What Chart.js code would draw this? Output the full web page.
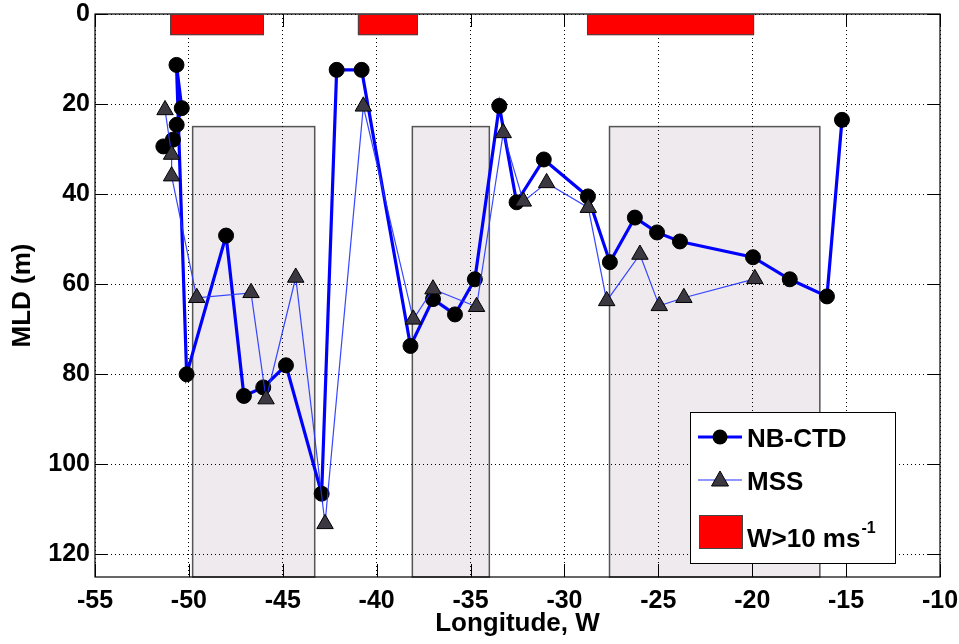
<!DOCTYPE html>
<html>
<head>
<meta charset="utf-8">
<script src="https://cdn.jsdelivr.net/npm/chart.js@4/dist/chart.umd.min.js"></script>
<style>
  html, body { margin: 0; padding: 0; background: #ffffff; }
  #wrap { width: 959px; height: 644px; position: relative; }
</style>
</head>
<body>
<div id="wrap"><canvas id="c" width="959" height="644"></canvas></div>
<script>
// ---- data ----
const ctdLon = [-51.36, -50.85, -50.65, -50.38, -50.66, -50.12, -48.02, -47.07, -46.04, -44.83, -42.93, -42.13, -40.80, -38.20, -37.00, -35.83, -34.77, -33.47, -32.55, -31.10, -28.75, -27.58, -26.25, -25.07, -23.85, -19.96, -18.00, -16.02, -15.22];
const ctdMld = [29.4, 27.9, 24.6, 20.9, 11.3, 80.0, 49.2, 84.8, 82.9, 78.0, 106.5, 12.4, 12.4, 73.7, 63.3, 66.7, 58.9, 20.4, 41.8, 32.3, 40.5, 55.1, 45.2, 48.5, 50.5, 54.0, 58.9, 62.7, 23.5];

const mssLon = [-51.27, -50.92, -50.92, -49.58, -46.69, -45.89, -44.31, -42.75, -40.71, -38.05, -37.00, -34.68, -33.26, -32.19, -30.95, -28.73, -27.75, -25.98, -24.95, -23.64, -19.86];
const mssMld = [21.3, 31.2, 36.0, 63.0, 61.9, 85.5, 58.5, 113.2, 20.5, 67.8, 61.1, 65.0, 26.4, 41.6, 37.5, 43.0, 63.7, 53.4, 64.8, 63.0, 58.8];

// wind > 10 m/s periods (longitude start, end) and depth extent
const windStart = [-51.0, -41.0, -28.8];
const windEnd   = [-46.0, -37.8, -19.9];
const windDepth = [0, 4.7];

// shaded boxes (longitude start, end), depth from 25 to bottom
const shadeStart = [-49.8, -38.1, -27.6];
const shadeEnd   = [-43.3, -34.0, -16.4];
const shadeDepth = [25, 125];

const xTicks = [-55, -50, -45, -40, -35, -30, -25, -20, -15, -10];
const yTicks = [0, 20, 40, 60, 80, 100, 120];

const FONT = "'Liberation Sans', Arial, Helvetica, sans-serif";

function pts(xs, ys) { return xs.map((x, i) => ({ x: x, y: ys[i] })); }

const boxesPlugin = {
  id: 'boxes',
  beforeDraw(chart) {
    const { ctx, scales: { x, y } } = chart;
    ctx.save();
    for (let i = 0; i < shadeStart.length; i++) {
      const x0 = x.getPixelForValue(shadeStart[i]);
      const x1 = x.getPixelForValue(shadeEnd[i]);
      const y0 = y.getPixelForValue(shadeDepth[0]);
      const y1 = y.getPixelForValue(shadeDepth[1]);
      ctx.fillStyle = '#eeeaee';
      ctx.fillRect(x0, y0, x1 - x0, y1 - y0);
      ctx.strokeStyle = '#555555';
      ctx.lineWidth = 1.5;
      ctx.strokeRect(x0, y0, x1 - x0, y1 - y0);
    }
    ctx.restore();
  },
  afterDatasetsDraw(chart) {
    const { ctx, chartArea: a, scales: { x, y } } = chart;
    ctx.save();
    ctx.strokeStyle = '#000000';
    ctx.lineWidth = 1.2;
    ctx.strokeRect(a.left, a.top, a.right - a.left, a.bottom - a.top);
    const tl = 13;
    ctx.beginPath();
    xTicks.forEach(v => {
      const px = Math.round(x.getPixelForValue(v)) + 0.5;
      ctx.moveTo(px, a.bottom); ctx.lineTo(px, a.bottom - tl);
      ctx.moveTo(px, a.top); ctx.lineTo(px, a.top + tl);
    });
    yTicks.forEach(v => {
      const py = Math.round(y.getPixelForValue(v)) + 0.5;
      ctx.moveTo(a.left, py); ctx.lineTo(a.left + tl, py);
      ctx.moveTo(a.right, py); ctx.lineTo(a.right - tl, py);
    });
    ctx.lineWidth = 1;
    ctx.stroke();

    // wind bars drawn over the axes box
    for (let i = 0; i < windStart.length; i++) {
      const x0 = x.getPixelForValue(windStart[i]);
      const x1 = x.getPixelForValue(windEnd[i]);
      const y0 = y.getPixelForValue(windDepth[0]);
      const y1 = y.getPixelForValue(windDepth[1]);
      ctx.fillStyle = '#ff0000';
      ctx.fillRect(x0, y0, x1 - x0, y1 - y0);
      ctx.strokeStyle = '#444444';
      ctx.lineWidth = 1;
      ctx.strokeRect(x0 + 0.5, y0 + 0.5, x1 - x0 - 1, y1 - y0 - 1);
    }
    ctx.restore();
  },
  afterDraw(chart) {
    const { ctx } = chart;
    ctx.save();
    // legend box
    const L = 690, T = 412, R = 895, B = 563;
    ctx.fillStyle = '#ffffff';
    ctx.fillRect(L, T, R - L, B - T);
    ctx.strokeStyle = '#000000';
    ctx.lineWidth = 1;
    ctx.strokeRect(L + 0.5, T + 0.5, R - L, B - T);

    // NB-CTD
    ctx.strokeStyle = '#0000ff';
    ctx.lineWidth = 3;
    ctx.beginPath(); ctx.moveTo(698, 437); ctx.lineTo(742, 437); ctx.stroke();
    ctx.fillStyle = '#000000';
    ctx.beginPath(); ctx.arc(720, 437, 7.5, 0, Math.PI * 2); ctx.fill();

    // MSS
    ctx.strokeStyle = '#2233ff';
    ctx.lineWidth = 1.2;
    ctx.beginPath(); ctx.moveTo(698, 480); ctx.lineTo(742, 480); ctx.stroke();
    ctx.fillStyle = '#3c3842';
    ctx.strokeStyle = '#000000';
    ctx.lineWidth = 1;
    ctx.beginPath();
    ctx.moveTo(720, 471); ctx.lineTo(728.5, 486); ctx.lineTo(711.5, 486); ctx.closePath();
    ctx.fill(); ctx.stroke();

    // wind
    ctx.fillStyle = '#ff0000';
    ctx.fillRect(699, 515, 43, 33);
    ctx.strokeStyle = '#444444';
    ctx.strokeRect(699.5, 515.5, 43, 33);

    ctx.fillStyle = '#000000';
    ctx.textBaseline = 'alphabetic';
    ctx.textAlign = 'left';
    ctx.font = 'bold 26px ' + FONT;
    ctx.fillText('NB-CTD', 747, 447);
    ctx.fillText('MSS', 747, 490);
    ctx.fillText('W>10 ms', 747, 547);
    const w = ctx.measureText('W>10 ms').width;
    ctx.font = 'bold 16px ' + FONT;
    ctx.fillText('-1', 747 + w + 1, 533);
    ctx.restore();
  }
};

new Chart(document.getElementById('c'), {
  type: 'scatter',
  data: {
    datasets: [
      {
        label: 'MSS',
        data: pts(mssLon, mssMld),
        showLine: true,
        borderColor: 'rgba(34,51,255,0.9)',
        borderWidth: 1.2,
        pointStyle: 'triangle',
        pointRadius: 9.5,
        pointBackgroundColor: '#3c3842',
        pointBorderColor: '#000000',
        pointBorderWidth: 1,
        order: 0
      },
      {
        label: 'NB-CTD',
        data: pts(ctdLon, ctdMld),
        showLine: true,
        borderColor: '#0000ff',
        borderWidth: 3.2,
        pointStyle: 'circle',
        pointRadius: 7.5,
        pointBackgroundColor: '#000000',
        pointBorderColor: '#000000',
        pointBorderWidth: 1,
        order: 1
      }
    ]
  },
  options: {
    responsive: false,
    animation: false,
    events: [],
    layout: { padding: { left: 0, right: 19, top: 14, bottom: 0 } },
    plugins: {
      legend: { display: false },
      tooltip: { enabled: false }
    },
    scales: {
      x: {
        type: 'linear',
        min: -55, max: -10,
        afterBuildTicks: (s) => { s.ticks = xTicks.map(v => ({ value: v })); },
        afterFit: (s) => { s.height = 67; s.paddingLeft = 0; s.paddingRight = 0; },
        grid: { color: '#000000', lineWidth: 1, drawTicks: false },
        border: { display: false, dash: [1, 3] },
        ticks: {
          color: '#000000',
          padding: 9,
          maxRotation: 0,
          autoSkip: false,
          font: { family: FONT, size: 25, weight: 'bold' }
        },
        title: {
          display: true,
          text: 'Longitude, W',
          color: '#000000',
          padding: { top: 0, bottom: 5 },
          font: { family: FONT, size: 26, weight: 'bold' }
        }
      },
      y: {
        type: 'linear',
        reverse: true,
        min: 0, max: 125,
        afterBuildTicks: (s) => { s.ticks = yTicks.map(v => ({ value: v })); },
        afterFit: (s) => { s.width = 95; s.paddingTop = 0; s.paddingBottom = 0; },
        grid: { color: '#000000', lineWidth: 1, drawTicks: false },
        border: { display: false, dash: [1, 3] },
        ticks: {
          color: '#000000',
          padding: 5,
          autoSkip: false,
          font: { family: FONT, size: 25, weight: 'bold' }
        },
        title: {
          display: true,
          text: 'MLD (m)',
          color: '#000000',
          padding: { top: 7, bottom: 0 },
          font: { family: FONT, size: 26, weight: 'bold' }
        }
      }
    }
  },
  plugins: [boxesPlugin]
});
</script>
</body>
</html>
